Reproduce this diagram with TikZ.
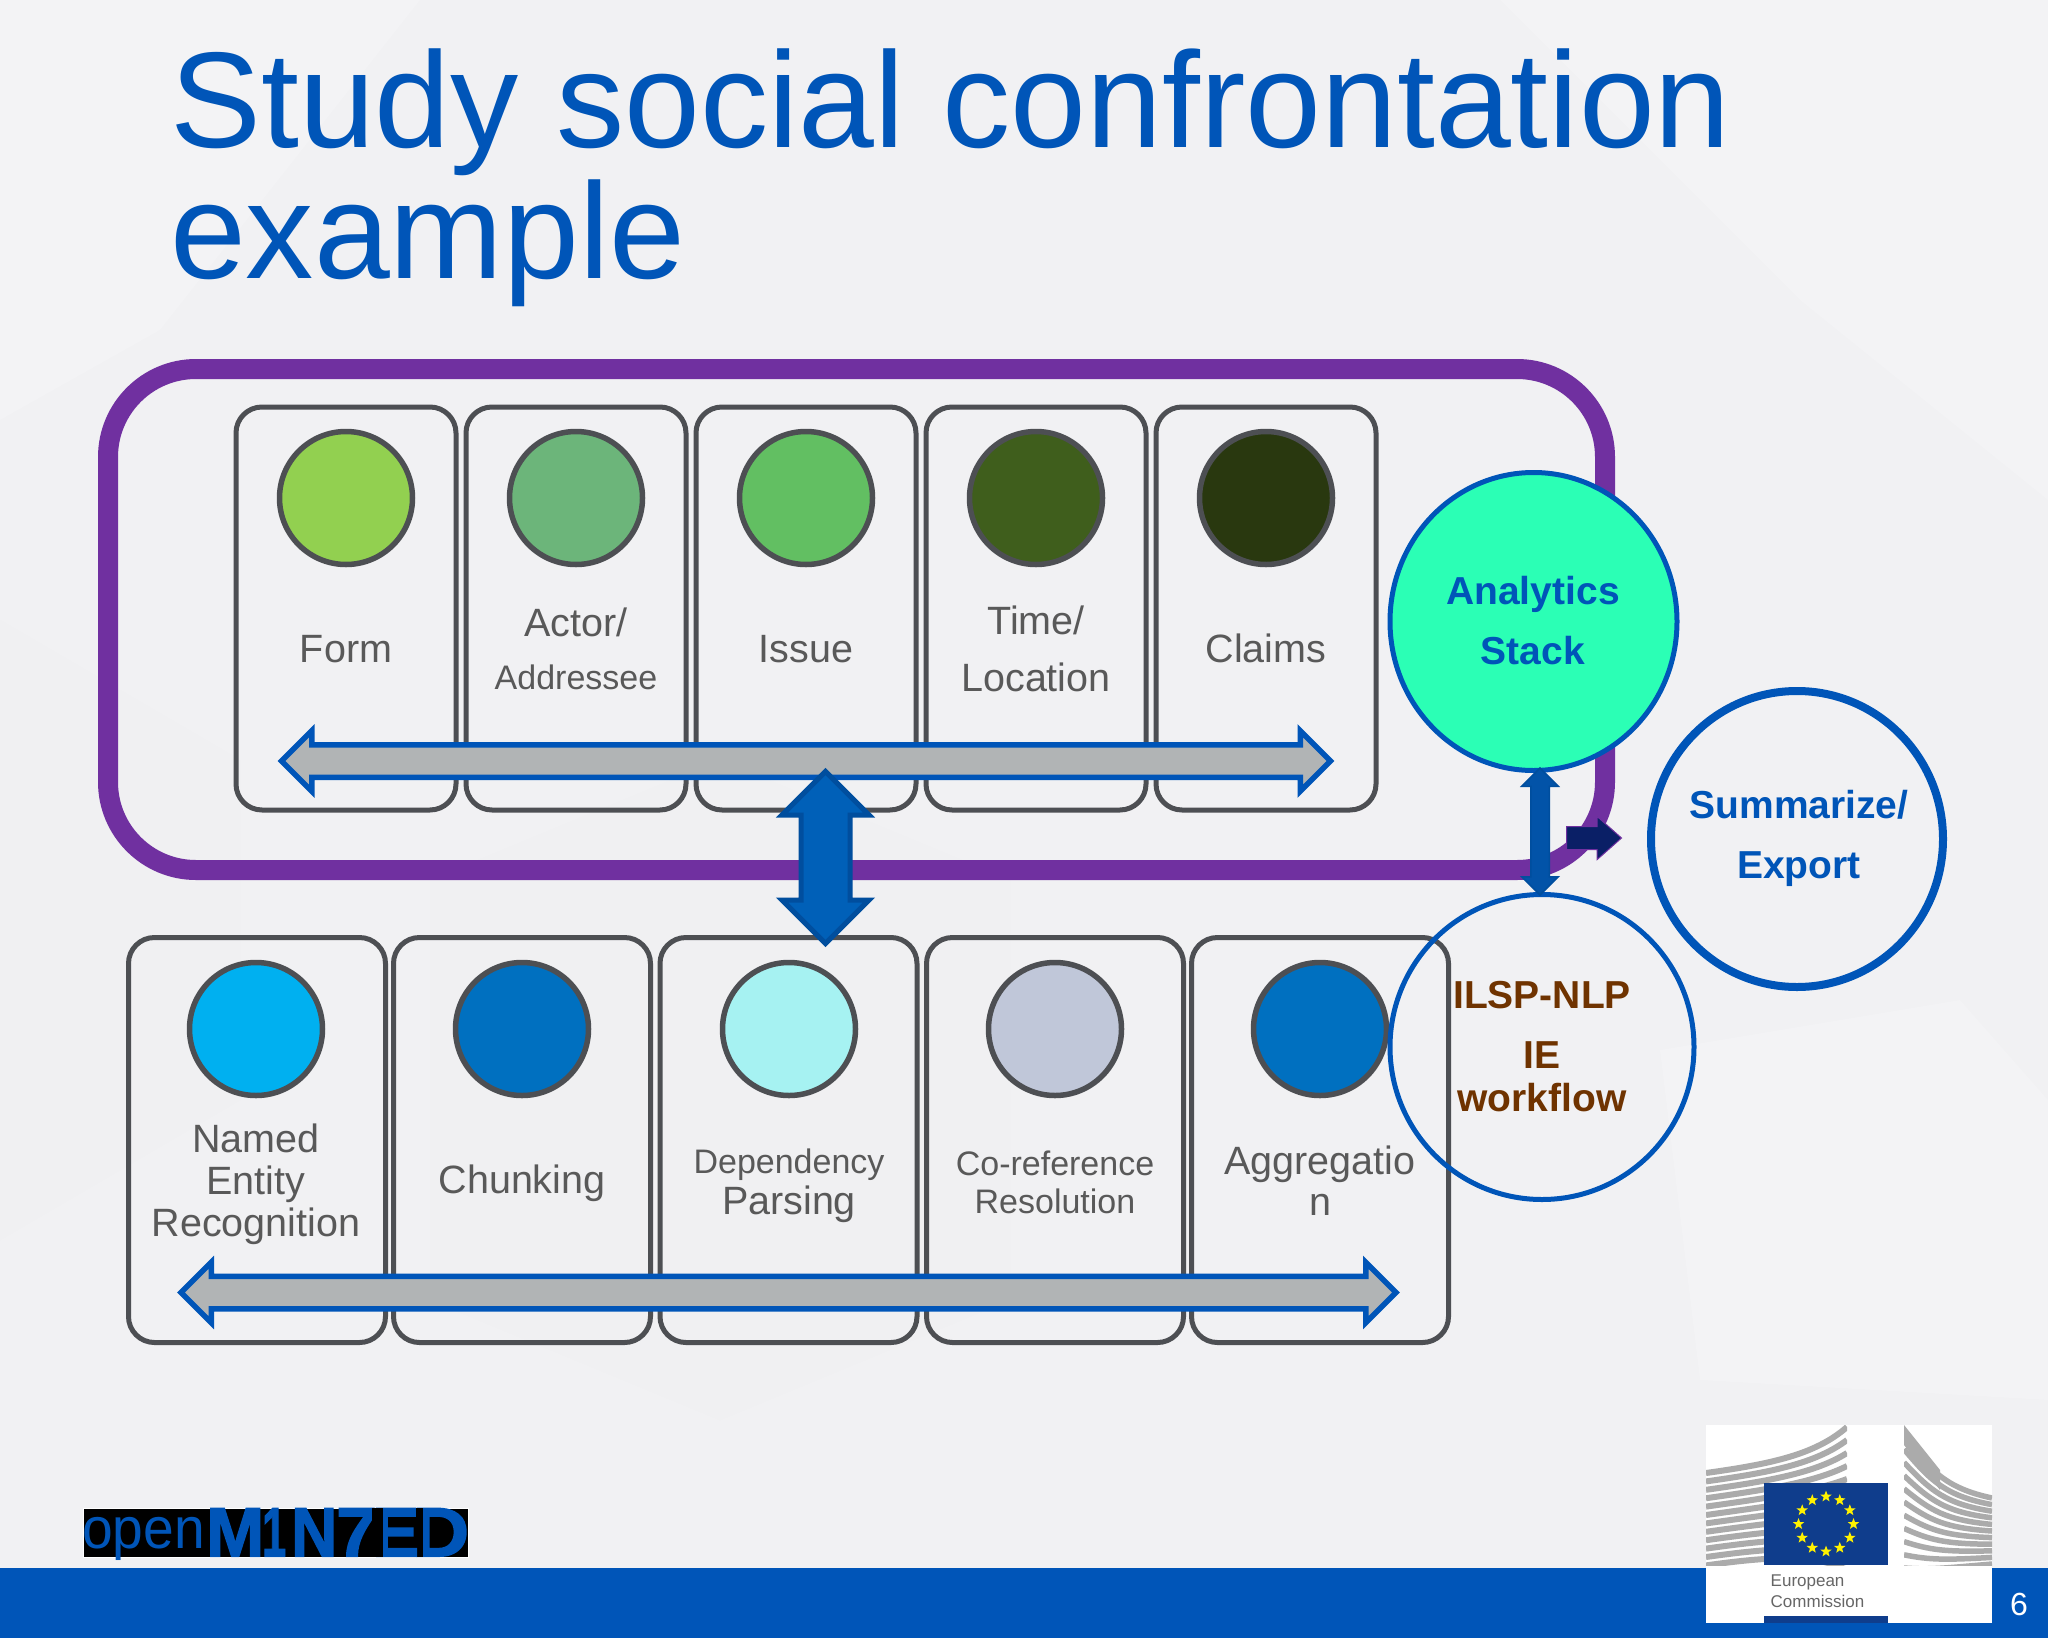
\documentclass[tikz,border=0pt]{standalone}
\usepackage{fontspec}
\setmainfont{Liberation Sans}
\newfontfamily\logofont{Liberation Sans}[BoldFeatures={FakeBold=2}]
\usetikzlibrary{shapes.geometric,shapes.arrows}
\definecolor{bgc}{HTML}{F1F1F3}
\definecolor{bgl}{HTML}{F3F3F5}
\definecolor{bgd}{HTML}{F0F0F2}
\definecolor{ecblue}{HTML}{0055B8}
\definecolor{lblgray}{HTML}{595959}
\definecolor{edgegray}{HTML}{4D4F53}
\definecolor{purp}{HTML}{7030A0}
\definecolor{arrgray}{HTML}{B1B4B5}
\definecolor{midblue}{HTML}{0060B8}
\definecolor{midedge}{HTML}{004E9E}
\definecolor{navy}{HTML}{0A1F66}
\definecolor{brownt}{HTML}{6F3300}
\definecolor{flagblue}{HTML}{0F3D8C}
\definecolor{bldg}{HTML}{ABABAB}
\tikzset{
 x=1pt,y=-1pt,
 boxn/.style={draw=edgegray,line width=5pt,rounded corners=26pt,inner sep=0pt,fill=none},
 topbox/.style={boxn,minimum width=220pt,minimum height=403pt},
 botbox/.style={boxn,minimum width=257pt,minimum height=405pt},
 dot/.style={circle,draw=edgegray,line width=5.5pt,minimum size=133pt,inner sep=0pt},
 lbl/.style={anchor=base,inner sep=0pt,text=lblgray,font=\fontsize{39.5}{40}\selectfont},
 lbls/.style={lbl,font=\fontsize{34}{35}\selectfont},
 bold/.style={anchor=base,inner sep=0pt,font=\fontsize{39}{40}\selectfont\bfseries,text=ecblue},
 hbar/.style={double arrow,draw=ecblue,fill=arrgray,line width=5.5pt,inner sep=13.5pt,
   double arrow head extend=14pt,double arrow tip angle=90},
 titletxt/.style={anchor=base west,inner sep=0pt,text=ecblue,font=\fontsize{136.3}{136}\selectfont},
 logol/.style={anchor=south west,inner sep=0pt,text=ecblue,font=\logofont\bfseries},
}
\newcommand{\logoletter}[2]{\resizebox{#1pt}{48pt}{#2}}
\begin{document}
\begin{tikzpicture}
\useasboundingbox (0,0) rectangle (2048,1638);
\fill[bgc] (0,0) rectangle (2048,1638);
% faint background facets
\fill[bgl] (0,0) -- (420,0) -- (160,330) -- (0,420) -- cycle;
\fill[bgl] (1500,0) -- (2048,0) -- (2048,500) -- (1800,300) -- cycle;
\fill[bgd] (0,620) -- (240,760) -- (240,1100) -- (0,1240) -- cycle;
\fill[bgd] (430,880) -- (720,760) -- (1010,880) -- (1010,1300) -- (720,1420) -- (430,1300) -- cycle;
\fill[bgl] (1660,1050) -- (1960,1000) -- (2048,1100) -- (2048,1400) -- (1700,1380) -- cycle;
% title
\node[titletxt] (t1) at (170,147) {Study social confrontation};
\node[titletxt] (t2) at (170,278) {example};
% purple frame
\node[draw=purp,line width=20pt,rounded corners=88pt,inner sep=0pt,minimum width=1497pt,minimum height=501pt] (frame) at (856.5,619.5) {};
% top boxes
\foreach \n/\x in {a/346,b/576,c/806,d/1036,e/1266}{
  \node[topbox] (box\n) at (\x,608.5) {};
}
\foreach \n/\x/\c in {a/346/92D050,b/576/6CB57A,c/806/62BF62,d/1036/3F5E1C,e/1266/29380F}{
  \definecolor{tmpc}{HTML}{\c}
  \node[dot,fill=tmpc] (dot\n) at (\x,498) {};
}
\node[lbl] (l1) at (346,662) {Form};
\node[lbl] (l2) at (576,636) {Actor/};
\node[lbls] (l3) at (576,689) {Addressee};
\node[lbl] (l4) at (806,662) {Issue};
\node[lbl] (l5) at (1036,634) {Time/};
\node[lbl] (l6) at (1036,691) {Location};
\node[lbl] (l7) at (1266,662) {Claims};
% bottom boxes
\foreach \n/\x in {f/257,g/522,h/788.5,i/1055,j/1320}{
  \node[botbox] (box\n) at (\x,1140) {};
}
\foreach \n/\x/\c in {f/256/00B0F0,g/522/0070C0,h/789/A6F2F2,i/1055/C0C7D9,j/1320/0070C0}{
  \definecolor{tmpc}{HTML}{\c}
  \node[dot,fill=tmpc] (dot\n) at (\x,1029) {};
}
\node[lbl] (m1) at (256,1152) {Named};
\node[lbl] (m2) at (256,1194) {Entity};
\node[lbl] (m3) at (256,1236) {Recognition};
\node[lbl] (m4) at (522,1193) {Chunking};
\node[lbls] (m5) at (789,1173) {Dependency};
\node[lbl] (m6) at (789,1214) {Parsing};
\node[lbls] (m7) at (1055,1175) {Co-reference};
\node[lbls] (m8) at (1055,1213) {Resolution};
\node[lbl] (m9) at (1320,1174) {Aggregatio};
\node[lbl] (m10) at (1320,1215) {n};
% horizontal block arrows
\node[hbar,minimum height=1049pt] (arrtop) at (806,761) {};
\node[hbar,minimum height=1215pt] (arrbot) at (788.5,1292.5) {};
% ellipses
\node[ellipse,draw=ecblue,line width=5pt,minimum width=304pt,minimum height=305pt,inner sep=0pt] (ilsp) at (1542,1047) {};
\node[ellipse,draw=ecblue,line width=5pt,fill={rgb,255:red,43;green,255;blue,181},minimum width=287pt,minimum height=298pt,inner sep=0pt] (ana) at (1533.5,621.5) {};
\node[ellipse,draw=ecblue,line width=8pt,minimum width=292pt,minimum height=296pt,inner sep=0pt] (sum) at (1797,839) {};
\node[bold] (a1) at (1533,604) {Analytics};
\node[bold] (a2) at (1533,664) {Stack};
\node[bold] (s1) at (1799,818) {Summarize/};
\node[bold] (s2) at (1799,878) {Export};
\node[bold,text=brownt] (i1) at (1542,1008) {ILSP-NLP};
\node[bold,text=brownt] (i2) at (1542,1068) {IE};
\node[bold,text=brownt] (i3) at (1542,1111) {workflow};
% central double arrow
\node[double arrow,shape border rotate=90,draw=midedge,fill=midblue,line width=5pt,inner sep=22pt,
  minimum height=172pt,double arrow head extend=19pt,double arrow tip angle=90] (arrmid) at (825.5,857.5) {};
% small arrows
\node[double arrow,shape border rotate=90,draw=midedge,fill=midblue!80!navy,line width=1.5pt,inner sep=8.5pt,
  minimum height=127pt,double arrow head extend=9pt,double arrow tip angle=90] (arrv) at (1540,831.5) {};
\node[single arrow,draw=purp,fill=navy,line width=1pt,inner sep=11pt,
  minimum height=55pt,single arrow head extend=10pt,single arrow tip angle=83] (arrh) at (1587.5,838) {};
% footer
\fill[ecblue] (0,1568) rectangle (2048,1638);
\node[anchor=base,inner sep=0pt,text=white,font=\fontsize{32}{32}\selectfont] (pg) at (2019,1615) {6};
% openMINTED logo
\node[fill=black,draw=white,line width=0.8pt,minimum width=385pt,minimum height=49pt,inner sep=0pt] (logo) at (275.5,1532.5) {};
\node[anchor=base west,inner sep=0pt,text=ecblue,font=\fontsize{58}{58}\selectfont] (op) at (82,1548) {\scalebox{0.95}[1]{open}};
\node[logol] (lm) at (206,1556.5) {\logoletter{58}{M}};
\node[logol] (li) at (262,1556.5) {\logoletter{24}{1}};
\node[logol] (ln) at (291,1556.5) {\logoletter{46}{N}};
\node[logol] (lt) at (336,1556.5) {\logoletter{41}{7}};
\node[logol] (ld) at (412,1556.5) {\logoletter{57}{D}};
\fill[black] (411,1508) rectangle (423,1556.5);
\node[logol] (le) at (372,1556.5) {\logoletter{47}{E}};
\fill[black] (372,1508) rectangle (383,1556.5);
% EC logo
\fill[white] (1706,1425) rectangle (1992,1623);
\begin{scope}
\clip (1706,1425) rectangle (1847,1565);
\foreach \i in {0,...,11}{
  \pgfmathsetmacro{\ya}{1473+\i*8.4}
  \pgfmathsetmacro{\yb}{1464+\i*8.4}
  \pgfmathsetmacro{\yc}{1455+\i*9}
  \pgfmathsetmacro{\yd}{1427+\i*13}
  \draw[bldg,line width=6pt] (1706,\ya) .. controls (1770,\yb) and (1815,\yc) .. (1847,\yd);
}
\end{scope}
\begin{scope}
\clip (1904,1425) rectangle (1992,1565);
\fill[bldg] (1904,1425) -- (1904,1445) -- (1940,1490) -- (1940,1470) -- cycle;
\foreach \i in {0,...,10}{
  \pgfmathsetmacro{\ya}{1436+\i*13.2}
  \pgfmathsetmacro{\yb}{1470+\i*10}
  \pgfmathsetmacro{\yc}{1488+\i*8}
  \pgfmathsetmacro{\yd}{1498+\i*6.6}
  \draw[bldg,line width=5.5pt] (1904,\ya) .. controls (1930,\yb) and (1945,\yc) .. (1992,\yd);
}
\end{scope}
\fill[flagblue] (1764,1483) rectangle (1888,1565);
\fill[flagblue] (1764,1616) rectangle (1888,1623);
\foreach \k in {0,30,...,330}{
  \node[star,star points=5,star point ratio=2.4,fill=yellow,inner sep=0pt,minimum size=12pt] at ({1826+27.5*cos(\k)},{1524+27.5*sin(\k)}) {};
}
\node[anchor=base west,inner sep=0pt,text=black!60,font=\fontsize{17}{18}\selectfont] (eu) at (1770.5,1586) {European};
\node[anchor=base west,inner sep=0pt,text=black!60,font=\fontsize{17}{18}\selectfont] (co) at (1770.5,1607) {Commission};
\end{tikzpicture}
\end{document}
